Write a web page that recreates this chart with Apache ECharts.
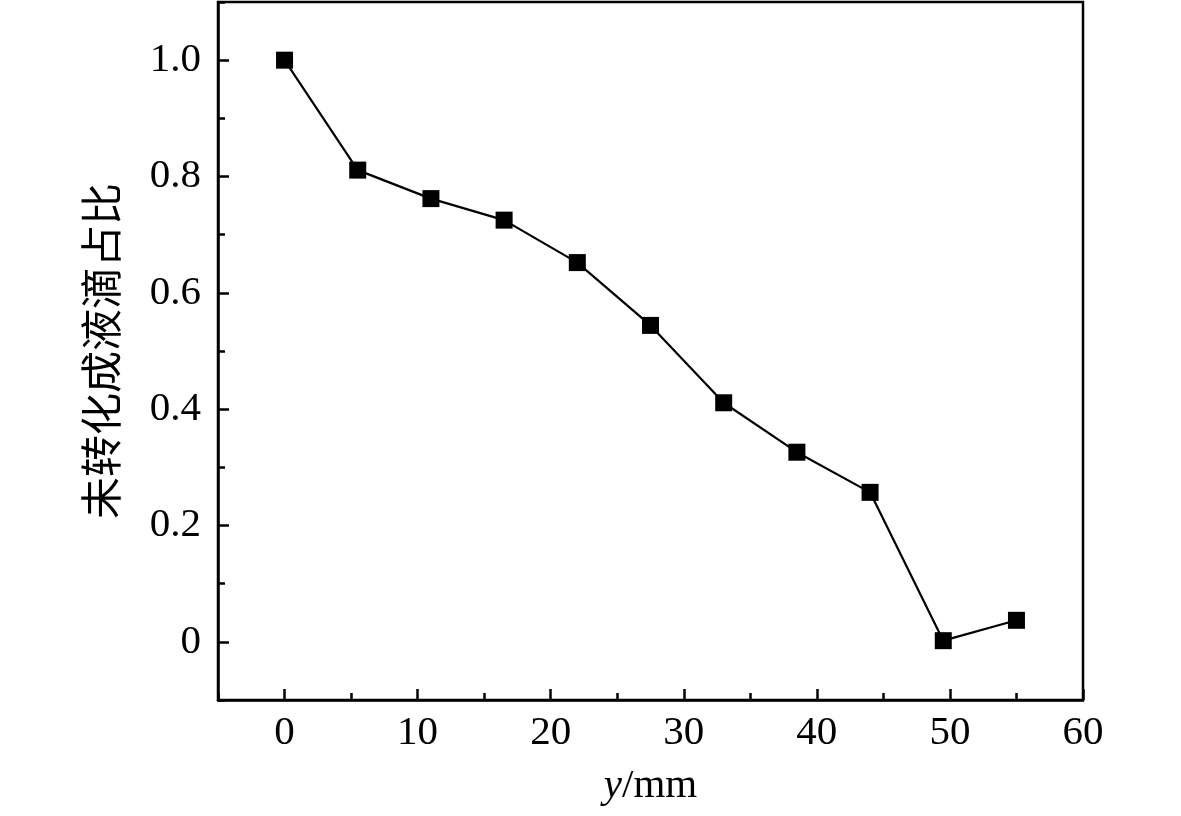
<!DOCTYPE html>
<html>
<head>
<meta charset="utf-8">
<script src="https://cdn.jsdelivr.net/npm/echarts@6/dist/echarts.min.js"></script>
<style>
html, body { margin: 0; padding: 0; background: #fff; }
#main { width: 1181px; height: 816px; }
</style>
</head>
<body>
<div id="main"></div>
<script>
// positions along y (mm) and the share of liquid not yet turned into droplets
var yPos = [0, 5.5, 11, 16.5, 22, 27.5, 33, 38.5, 44, 49.5, 55];
var ratio = [1.0, 0.811, 0.762, 0.725, 0.652, 0.544, 0.411, 0.326, 0.257, 0.002, 0.037];

var serif = '"Liberation Serif", "Times New Roman", serif';

var points = [];
for (var i = 0; i < yPos.length; i++) {
    points.push([yPos[i], ratio[i]]);
}

var myChart = echarts.init(document.getElementById('main'));
var option = {
    backgroundColor: '#fff',
    animation: false,
    grid: {
        left: 218,
        top: 2,
        right: 98,
        bottom: 116,
        show: true,
        borderColor: '#000',
        borderWidth: 2.5,
        backgroundColor: 'transparent'
    },
    xAxis: [
        {
            type: 'value',
            min: -5,
            max: 60,
            name: '{i|y}/mm',
            nameLocation: 'middle',
            nameGap: 66,
            nameTextStyle: {
                color: '#000',
                fontFamily: serif,
                fontSize: 41,
                rich: {
                    i: { fontStyle: 'italic', fontFamily: serif, fontSize: 41, color: '#000' }
                }
            },
            axisLine: { show: true, onZero: false, lineStyle: { color: '#000', width: 2.5 } },
            axisTick: { show: true, inside: true, length: 11, lineStyle: { color: '#000', width: 2.5 } },
            axisLabel: {
                color: '#000',
                fontFamily: serif,
                fontSize: 41,
                margin: 13,
                showMinLabel: false,
                showMaxLabel: true
            },
            splitLine: { show: false }
        },
        {
            type: 'value',
            min: -5,
            max: 60,
            interval: 10,
            position: 'bottom',
            axisLine: { show: false, onZero: false },
            axisTick: { show: true, inside: true, length: 7, lineStyle: { color: '#000', width: 2.5 } },
            axisLabel: { show: false },
            splitLine: { show: false }
        }
    ],
    yAxis: [
        {
            type: 'value',
            min: -0.1,
            max: 1.1,
            name: '未转化成液滴占比',
            nameLocation: 'middle',
            nameGap: 96,
            nameTextStyle: {
                color: '#000',
                fontFamily: '"Noto Sans CJK SC", sans-serif',
                fontSize: 42
            },
            axisLine: { show: true, onZero: false, lineStyle: { color: '#000', width: 2.5 } },
            axisTick: { show: true, inside: true, length: 11, lineStyle: { color: '#000', width: 2.5 } },
            axisLabel: {
                color: '#000',
                fontFamily: serif,
                fontSize: 41,
                margin: 17,
                showMinLabel: false,
                showMaxLabel: false,
                formatter: function (v) {
                    return Math.abs(v) < 1e-9 ? '0' : v.toFixed(1);
                }
            },
            splitLine: { show: false }
        },
        {
            type: 'value',
            min: -0.1,
            max: 1.1,
            interval: 0.2,
            position: 'left',
            axisLine: { show: false, onZero: false },
            axisTick: { show: true, inside: true, length: 7, lineStyle: { color: '#000', width: 2.5 } },
            axisLabel: { show: false },
            splitLine: { show: false }
        }
    ],
    series: [
        {
            type: 'line',
            xAxisIndex: 0,
            yAxisIndex: 0,
            data: points,
            symbol: 'rect',
            symbolSize: 17,
            lineStyle: { color: '#000', width: 2.2 },
            itemStyle: { color: '#000' }
        }
    ]
};
myChart.setOption(option);
</script>
</body>
</html>
